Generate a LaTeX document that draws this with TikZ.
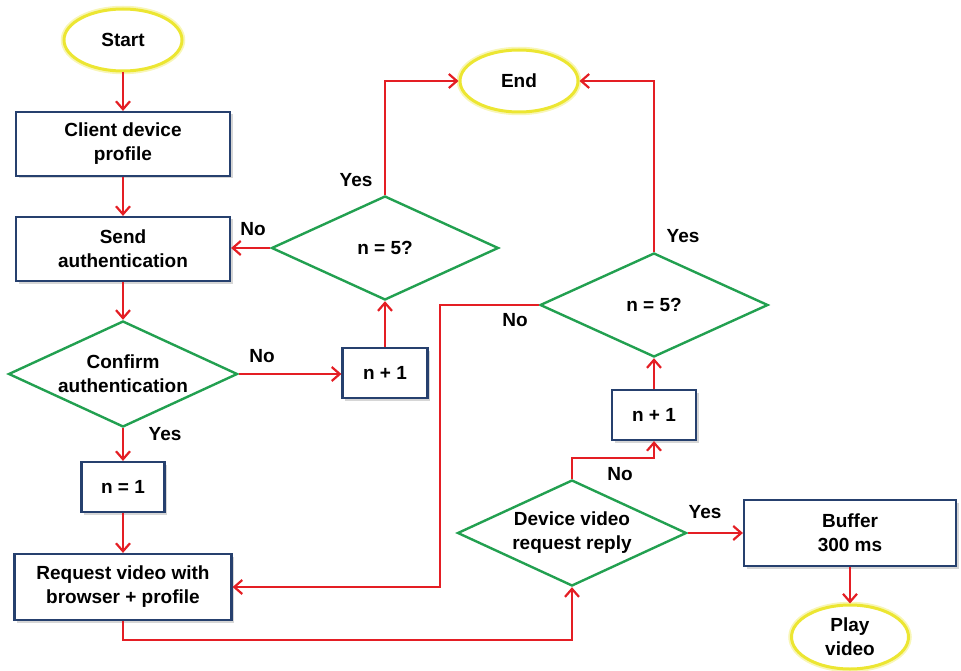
\documentclass[tikz,border=0pt]{standalone}
\usepackage{fontspec}
\setmainfont{Liberation Sans}
\usetikzlibrary{shapes.geometric,arrows.meta}
\definecolor{flowred}{RGB}{228,30,36}
\definecolor{boxblue}{RGB}{38,64,110}
\definecolor{decgreen}{RGB}{34,160,80}
\definecolor{termyellow}{RGB}{236,230,50}
\begin{document}
\begin{tikzpicture}[x=1pt,y=-1pt,
  every node/.style={font=\bfseries\fontsize{19}{24}\selectfont, align=center, inner sep=0pt},
  procbox/.style={draw=boxblue, line width=2.2pt, fill=white, rectangle,
    preaction={fill=black!16, transform canvas={xshift=2.5pt, yshift=-2.5pt}}},
  decision/.style={draw=decgreen, line width=2.4pt, fill=white, diamond, aspect=2.2},
  terminal/.style={draw=termyellow, line width=3pt, fill=white, ellipse,
    preaction={draw=termyellow!35, line width=6.5pt}},
  arr/.style={draw=flowred, line width=2.2pt, -{Straight Barb[length=8pt,width=14pt,line width=2.2pt]}},
  lbl/.style={font=\bfseries\fontsize{19}{22}\selectfont}
]
\useasboundingbox (0,0) rectangle (961,671);

% terminals
\node[terminal, minimum width=118, minimum height=62] (start) at (123,40) {Start};
\node[terminal, minimum width=118, minimum height=62] (end) at (519,81) {End};
\node[terminal, minimum width=117, minimum height=64] (play) at (850,637) {Play\\video};

% process boxes
\node[procbox, minimum width=214, minimum height=64] (client) at (123,144) {Client device\\profile};
\node[procbox, minimum width=214, minimum height=64] (send) at (123,249) {Send\\authentication};
\node[procbox, minimum width=83, minimum height=50] (n1) at (123,487) {n = 1};
\node[procbox, minimum width=217, minimum height=66] (request) at (123,587) {Request video with\\browser + profile};
\node[procbox, minimum width=85, minimum height=50] (incL) at (385,373) {n + 1};
\node[procbox, minimum width=84, minimum height=50] (incR) at (654,415) {n + 1};
\node[procbox, minimum width=212, minimum height=66] (buffer) at (850,533) {Buffer\\300 ms};

% decisions
\node[decision, minimum width=229, minimum height=106] (confirm) at (123,374) {Confirm\\authentication};
\node[decision, minimum width=227, minimum height=104] (checkL) at (385,248) {n = 5?};
\node[decision, minimum width=228, minimum height=104] (checkR) at (654,305) {n = 5?};
\node[decision, minimum width=229, minimum height=106] (reply) at (572,533) {Device video\\request reply};

% routing helpers
\coordinate (low) at (0,640);
\coordinate (xr) at (440,0);

% connectors
\draw[arr] (start) -- (client);
\draw[arr] (client) -- (send);
\draw[arr] (send) -- (confirm);
\draw[arr] (confirm.east) -- (incL.west |- confirm.east);
\draw[arr] (confirm) -- (n1);
\draw[arr] (n1) -- (request);
\draw[arr] (request.south) -- (request.south |- low) -| (reply.south);
\draw[arr] (incL) -- (checkL);
\draw[arr] (checkL.west) -- (send.east |- checkL.west);
\draw[arr] (checkL.north) |- (end.west);
\draw[arr] (checkR.north) |- (end.east);
\draw[arr] (reply.north) -- ++(0,-21) -| (incR.south);
\draw[arr] (reply.east) -- (buffer.west);
\draw[arr] (buffer) -- (play);
\draw[arr] (incR) -- (checkR);
\draw[arr] (checkR.west) -- (checkR.west -| xr) |- (request.east);

% branch labels
\node[lbl] (yL1) at (356,180) {Yes};
\node[lbl] (nL1) at (253,229) {No};
\node[lbl] (nL2) at (262,356) {No};
\node[lbl] (yL2) at (165,434) {Yes};
\node[lbl] (yR1) at (683,236) {Yes};
\node[lbl] (nR1) at (515,320) {No};
\node[lbl] (nR2) at (620,474) {No};
\node[lbl] (yR2) at (705,512) {Yes};
\end{tikzpicture}
\end{document}
